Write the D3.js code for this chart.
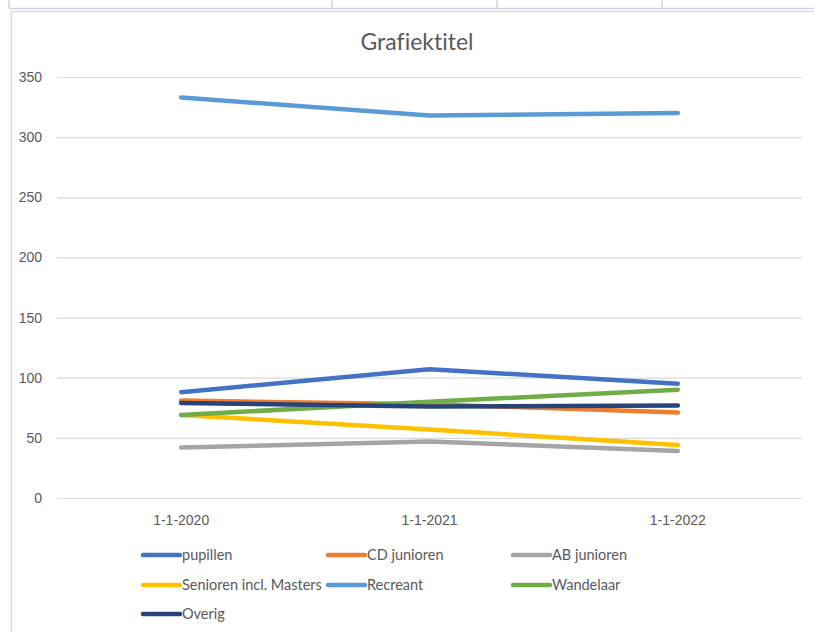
<!DOCTYPE html>
<html>
<head>
<meta charset="utf-8">
<script src="https://cdn.jsdelivr.net/npm/d3@7"></script>
<style>
  body { margin: 0; background: #fff; }
  svg { display: block; font-family: Lato, "Open Sans", sans-serif; font-variant-ligatures: none; }
  .yAxis text, .xAxis text { fill: #595959; font-size: 14px; }
  .legText { fill: #595959; font-size: 14.5px; }
</style>
</head>
<body>
<div id="chart"></div>
<script>
// Data
let categories = ["1-1-2020", "1-1-2021", "1-1-2022"];
let pupillen = [88, 107, 95];
let cdJunioren = [81, 78, 71];
let abJunioren = [42, 47, 39];
let senioren = [69, 57, 44];
let recreant = [333, 318, 320];
let wandelaar = [69, 80, 90];
let overig = [79, 76, 77];
let yTicks = [0, 50, 100, 150, 200, 250, 300, 350];

let seriesNames = ["pupillen", "CD junioren", "AB junioren", "Senioren incl. Masters", "Recreant", "Wandelaar", "Overig"];
let seriesValues = [pupillen, cdJunioren, abJunioren, senioren, recreant, wandelaar, overig];
let colors = ["#4472C4", "#ED7D31", "#A5A5A5", "#FFC000", "#5B9BD5", "#70AD47", "#264478"];

let width = 814;
let height = 632;

let svg = d3.select("#chart")
  .append("svg")
  .attr("width", width)
  .attr("height", height);

// spreadsheet cells peeking above the chart
svg.append("line")
  .attr("x1", 9).attr("x2", width).attr("y1", 8.5).attr("y2", 8.5)
  .attr("stroke", "#c9d5e5").attr("stroke-width", 1.5);
svg.append("line")
  .attr("x1", 9).attr("x2", 9).attr("y1", 0).attr("y2", 8.5)
  .attr("stroke", "#c9d5e5").attr("stroke-width", 1.5);
[332, 497, 662].forEach(function(x) {
  svg.append("line")
    .attr("x1", x).attr("x2", x).attr("y1", 0).attr("y2", 8)
    .attr("stroke", "#c9d5e5").attr("stroke-width", 1.5);
});

// chart area border
svg.append("rect")
  .attr("x", 11.5).attr("y", 11.5)
  .attr("width", width + 10).attr("height", height + 10)
  .attr("fill", "#fff")
  .attr("stroke", "#d9d9d9").attr("stroke-width", 1.5);

// title
svg.append("text")
  .attr("x", 417)
  .attr("y", 50)
  .attr("text-anchor", "middle")
  .attr("fill", "#595959")
  .attr("font-size", "23px")
  .text("Grafiektitel");

// scales
let xScale = d3.scaleBand()
  .domain(categories)
  .range([57, 802]);

let yScale = d3.scaleLinear()
  .domain([0, 350])
  .range([498, 77]);

function xPos(d, i) {
  return xScale(categories[i]) + xScale.bandwidth() / 2;
}

// y axis with gridlines
let yAxis = d3.axisLeft(yScale)
  .tickValues(yTicks)
  .tickSize(-(802 - 57))
  .tickPadding(15);

let yG = svg.append("g")
  .attr("class", "yAxis")
  .attr("transform", "translate(57,0)")
  .call(yAxis);
yG.select(".domain").remove();
yG.selectAll(".tick line").attr("stroke", "#d9d9d9").attr("stroke-width", 1.2);

// x axis labels only
let xAxis = d3.axisBottom(xScale).tickSize(0).tickPadding(17);
let xG = svg.append("g")
  .attr("class", "xAxis")
  .attr("transform", "translate(0,498)")
  .call(xAxis);
xG.select(".domain").remove();

// lines
let line = d3.line()
  .x(xPos)
  .y(function(d) { return yScale(d); });

seriesValues.forEach(function(vals, i) {
  svg.append("path")
    .datum(vals)
    .attr("d", line)
    .attr("fill", "none")
    .attr("stroke", colors[i])
    .attr("stroke-width", 4.5)
    .attr("stroke-linecap", "round")
    .attr("stroke-linejoin", "round");
});

// legend
let legCols = [143, 328, 513];
let legRows = [555, 585, 614];
let legend = svg.append("g").attr("class", "legend");
seriesNames.forEach(function(name, i) {
  let lx = legCols[i % 3];
  let ly = legRows[Math.floor(i / 3)];
  legend.append("line")
    .attr("x1", lx).attr("x2", lx + 37)
    .attr("y1", ly).attr("y2", ly)
    .attr("stroke", colors[i])
    .attr("stroke-width", 4.5)
    .attr("stroke-linecap", "round");
  legend.append("text")
    .attr("class", "legText")
    .attr("x", lx + 39)
    .attr("y", ly)
    .attr("dy", "0.35em")
    .text(name);
});
</script>
</body>
</html>
